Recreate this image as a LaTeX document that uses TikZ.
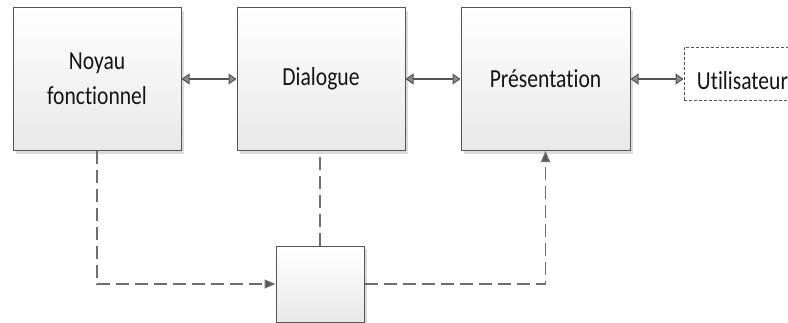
\documentclass[tikz,border=0pt]{standalone}
\usepackage{fontspec}
\setmainfont{Carlito}[FakeStretch=0.83, Ligatures={NoCommon}]
\usetikzlibrary{arrows.meta,shadows}
\definecolor{edge}{HTML}{555555}
\definecolor{txt}{HTML}{141414}
\tikzset{
  blk/.style={draw=edge, line width=1pt, top color=white, bottom color=black!9,
    drop shadow={shadow xshift=3pt, shadow yshift=-3pt, fill=black!14, opacity=1},
    align=center, text=txt, font=\fontsize{26}{35}\selectfont, inner sep=0pt},
  usr/.style={draw=edge, line width=0.8pt, dash pattern=on 3pt off 2pt, fill=white},
  lbl/.style={text=txt, font=\fontsize{26}{35}\selectfont, inner sep=0pt},
  biarrow/.style={draw=edge, line width=2.7pt,
    {Triangle[length=8pt,width=11pt,fill=black!45,line width=1pt]}-{Triangle[length=8pt,width=11pt,fill=black!45,line width=1pt]}},
  dashline/.style={draw=edge!85, line width=1.3pt, dash pattern=on 13pt off 6pt},
  dtip/.style={-{Triangle[length=11pt,width=9pt,fill=edge]}}
}
\begin{document}
\begin{tikzpicture}[x=1pt,y=-1pt]
\useasboundingbox (0,0) rectangle (788,322);
\node[blk, minimum width=168pt, minimum height=143pt] (noyau) at (97,79) {Noyau\\fonctionnel};
\node[blk, minimum width=168pt, minimum height=143pt] (dial) at (321,79) {Dialogue};
\node[blk, minimum width=169pt, minimum height=143pt] (pres) at (545.5,79) {Présentation};
\node[usr, minimum width=116pt, minimum height=53pt, inner sep=0pt] (user) at (742,73.5) {};
\node[lbl, anchor=base] (userlbl) at (742.5,89) {Utilisateur};
\node[blk, minimum width=88pt, minimum height=76pt] (ctrl) at (320,284) {};
\draw[biarrow] (noyau.east) -- (dial.west);
\draw[biarrow] (dial.east) -- (pres.west);
\draw[biarrow] (pres.east) -- (pres.east -| user.west);
\draw[dashline, dtip] (noyau.south) |- (ctrl.west);
\draw[dashline] (ctrl.north) -- (ctrl.north |- dial.south);
\draw[dashline, dtip] (ctrl.east) -| (pres.south);
\end{tikzpicture}
\end{document}
